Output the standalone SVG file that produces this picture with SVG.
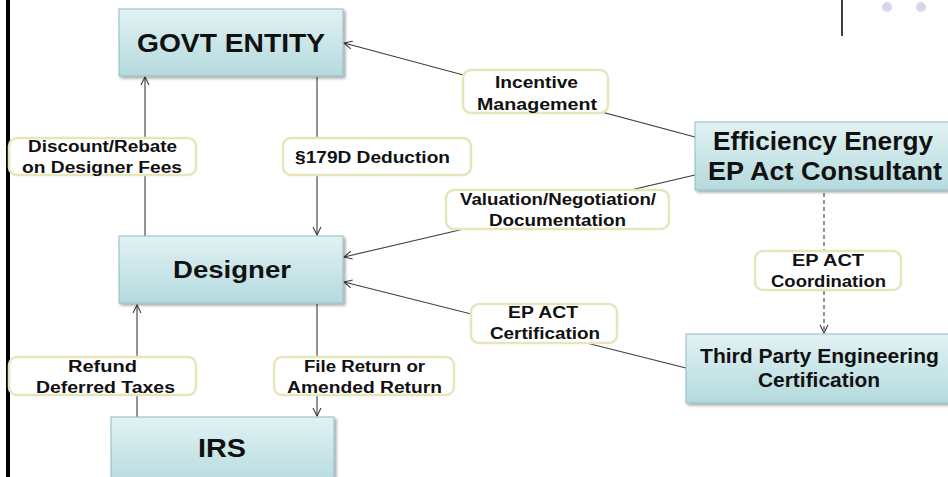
<svg xmlns="http://www.w3.org/2000/svg" width="948" height="477" viewBox="0 0 948 477">
  <style>
    .node { fill: url(#nodeFill); stroke: #8dbec4; stroke-width: 1; filter: url(#shadow); }
    .tag { fill: #ffffff; stroke: #e8e5bd; stroke-width: 2.5; }
    .wire { stroke: #3c3c3c; stroke-width: 1.1; fill: none; }
    .dash { stroke-dasharray: 4 3; }
    text { font-family: "Liberation Sans", Arial, sans-serif; font-weight: bold; fill: #111; }
    .tag-text { font-size: 16px; }
  </style>
  <defs>
    <linearGradient id="nodeFill" x1="0" y1="0" x2="0" y2="1">
      <stop offset="0" stop-color="#e2f2f3"/>
      <stop offset="1" stop-color="#b4dade"/>
    </linearGradient>
    <filter id="shadow" x="-10%" y="-10%" width="130%" height="140%">
      <feGaussianBlur in="SourceAlpha" stdDeviation="1.5"/>
      <feOffset dx="1.5" dy="2" result="off"/>
      <feComponentTransfer><feFuncA type="linear" slope="0.35"/></feComponentTransfer>
      <feMerge><feMergeNode/><feMergeNode in="SourceGraphic"/></feMerge>
    </filter>
    <marker id="arrow" markerUnits="userSpaceOnUse" markerWidth="12" markerHeight="12" refX="9" refY="5" orient="auto">
      <path d="M1,1 L9,5 L1,9" fill="none" stroke="#3c3c3c" stroke-width="1.1"/>
    </marker>
  </defs>

  <!-- page frame pieces -->
  <rect x="6" y="0" width="4" height="477" fill="#000"/>
  <line x1="842" y1="0" x2="842" y2="36" stroke="#000" stroke-width="1.5"/>
  <circle cx="887" cy="7" r="5" fill="#d9d6ec"/>
  <circle cx="921" cy="7" r="5" fill="#d9d6ec"/>

  <!-- connectors -->
  <g id="connectors">
    <line class="wire" x1="145" y1="236" x2="145" y2="77" marker-end="url(#arrow)"/>
    <line class="wire" x1="317" y1="77" x2="317" y2="235" marker-end="url(#arrow)"/>
    <line class="wire" x1="695" y1="137" x2="344" y2="43" marker-end="url(#arrow)"/>
    <line class="wire" x1="695" y1="175" x2="344" y2="257" marker-end="url(#arrow)"/>
    <line class="wire" x1="686" y1="368" x2="344" y2="282" marker-end="url(#arrow)"/>
    <line class="wire dash" x1="824" y1="193" x2="824" y2="333" marker-end="url(#arrow)"/>
    <line class="wire" x1="137" y1="417" x2="137" y2="305" marker-end="url(#arrow)"/>
    <line class="wire" x1="317" y1="304" x2="317" y2="416" marker-end="url(#arrow)"/>
  </g>

  <!-- connector labels -->
  <g id="label-incentive">
    <rect class="tag" x="463" y="70" width="145" height="43" rx="8"/>
    <text class="tag-text" x="495" y="88" textLength="83" lengthAdjust="spacingAndGlyphs">Incentive</text>
    <text class="tag-text" x="477" y="110" textLength="120" lengthAdjust="spacingAndGlyphs">Management</text>
  </g>
  <g id="label-discount">
    <rect class="tag" x="9" y="138" width="187" height="37" rx="8"/>
    <text class="tag-text" x="28" y="152" textLength="149" lengthAdjust="spacingAndGlyphs">Discount/Rebate</text>
    <text class="tag-text" x="22" y="173" textLength="160" lengthAdjust="spacingAndGlyphs">on Designer Fees</text>
  </g>
  <g id="label-179d">
    <rect class="tag" x="283" y="138" width="188" height="37" rx="8"/>
    <text class="tag-text" x="295" y="163" textLength="155" lengthAdjust="spacingAndGlyphs">§179D Deduction</text>
  </g>
  <g id="label-valuation">
    <rect class="tag" x="446" y="190" width="223" height="39" rx="8"/>
    <text class="tag-text" x="460" y="205" textLength="196" lengthAdjust="spacingAndGlyphs">Valuation/Negotiation/</text>
    <text class="tag-text" x="489" y="226" textLength="137" lengthAdjust="spacingAndGlyphs">Documentation</text>
  </g>
  <g id="label-certification">
    <rect class="tag" x="471" y="304" width="146" height="39" rx="8"/>
    <text class="tag-text" x="508" y="318" textLength="70" lengthAdjust="spacingAndGlyphs">EP ACT</text>
    <text class="tag-text" x="490" y="339" textLength="110" lengthAdjust="spacingAndGlyphs">Certification</text>
  </g>
  <g id="label-coordination">
    <rect class="tag" x="755" y="251" width="146" height="39" rx="8"/>
    <text class="tag-text" x="792" y="266" textLength="72" lengthAdjust="spacingAndGlyphs">EP ACT</text>
    <text class="tag-text" x="771" y="287" textLength="115" lengthAdjust="spacingAndGlyphs">Coordination</text>
  </g>
  <g id="label-refund">
    <rect class="tag" x="9" y="357" width="187" height="38" rx="8"/>
    <text class="tag-text" x="68" y="372" textLength="69" lengthAdjust="spacingAndGlyphs">Refund</text>
    <text class="tag-text" x="36" y="393" textLength="139" lengthAdjust="spacingAndGlyphs">Deferred Taxes</text>
  </g>
  <g id="label-file">
    <rect class="tag" x="274" y="357" width="180" height="38" rx="8"/>
    <text class="tag-text" x="304" y="372" textLength="121" lengthAdjust="spacingAndGlyphs">File Return or</text>
    <text class="tag-text" x="287" y="393" textLength="155" lengthAdjust="spacingAndGlyphs">Amended Return</text>
  </g>

  <!-- nodes -->
  <g id="govt-entity">
    <rect class="node" x="119" y="9" width="224" height="67"/>
    <text x="137" y="52" font-size="26" textLength="188" lengthAdjust="spacingAndGlyphs">GOVT ENTITY</text>
  </g>
  <g id="designer">
    <rect class="node" x="119" y="236" width="224" height="67"/>
    <text x="173" y="278" font-size="23" textLength="118" lengthAdjust="spacingAndGlyphs">Designer</text>
  </g>
  <g id="irs">
    <rect class="node" x="111" y="417" width="223" height="70"/>
    <text x="198" y="457" font-size="26" textLength="48" lengthAdjust="spacingAndGlyphs">IRS</text>
  </g>
  <g id="consultant">
    <rect class="node" x="695" y="122" width="260" height="68"/>
    <text x="713" y="150" font-size="25.5" textLength="220" lengthAdjust="spacingAndGlyphs">Efficiency Energy</text>
    <text x="708" y="180" font-size="25.5" textLength="234" lengthAdjust="spacingAndGlyphs">EP Act Consultant</text>
  </g>
  <g id="third-party">
    <rect class="node" x="686" y="334" width="270" height="69"/>
    <text x="700" y="363" font-size="21" textLength="239" lengthAdjust="spacingAndGlyphs">Third Party Engineering</text>
    <text x="758" y="387" font-size="21" textLength="122" lengthAdjust="spacingAndGlyphs">Certification</text>
  </g>
</svg>
